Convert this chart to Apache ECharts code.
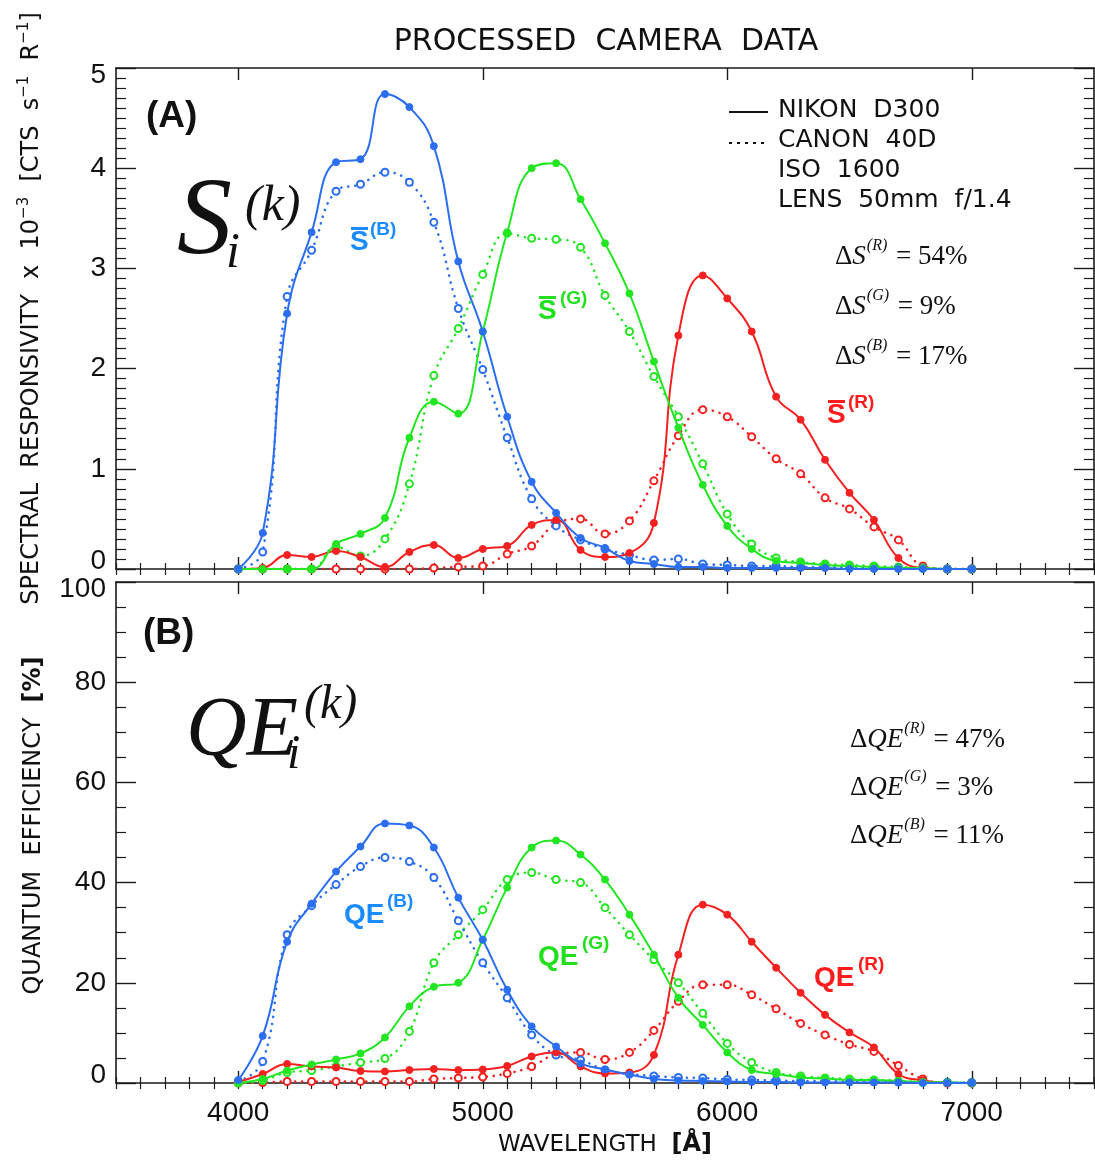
<!DOCTYPE html>
<html><head><meta charset="utf-8">
<script src="https://cdn.jsdelivr.net/npm/echarts@6/dist/echarts.min.js"></script>
<style>html,body{margin:0;padding:0;background:#fff}#c{width:1095px;height:1162px}</style>
</head><body><div id="c"></div>
<script>
// ---------------- DATA ----------------
const wavelengths = [4000,4100,4200,4300,4400,4500,4600,4700,4800,4900,5000,5100,5200,5300,5400,5500,5600,5700,5800,5900,6000,6100,6200,6300,6400,6500,6600,6700,6800,6900,7000];
const xTickValues = [4000,5000,6000,7000];

// Panel A: spectral responsivity (x 10^-3)
const sBlueNikon = [0,0.36,2.55,3.36,4.06,4.09,4.74,4.61,4.22,3.07,2.37, 1.52,0.87,0.56,0.31,0.21,0.08,0.05,0.02,0.02,0.01, 0.01,0.01,0.01,0.01,0,0,0,0,0,0];
const sBlueCanon = [0,0.17,2.72,3.18,3.77,3.84,3.96,3.86,3.46,2.60,1.99, 1.31,0.70,0.43,0.29,0.20,0.14,0.09,0.10,0.05,0.04, 0.03,0.03,0.02,0.02,0.02,0.01,0.01,0.01,0,0];
const sGreenNikon = [0,0,0,0,0.25,0.35,0.51,1.31,1.67,1.55,2.37, 3.36,4.00,4.05,3.69,3.25,2.75,2.07,1.41,0.84,0.43, 0.20,0.08,0.06,0.04,0.03,0.02,0.01,0.01,0,0];
const sGreenCanon = [0,0,0,0,0.22,0.13,0.30,0.85,1.93,2.40,2.94, 3.35,3.30,3.29,3.21,2.73,2.37,1.92,1.52,1.05,0.55, 0.25,0.11,0.07,0.05,0.04,0.03,0.02,0.01,0,0];
const sRedNikon = [0,0.01,0.14,0.12,0.18,0.12,0.02,0.17,0.24,0.11,0.20, 0.23,0.44,0.49,0.19,0.12,0.16,0.46,2.33,2.93,2.70, 2.37,1.72,1.49,1.09,0.76,0.49,0.11,0.01,0,0];
const sRedCanon = [0,0,0,0,0,0,0,0,0.01,0.02,0.03, 0.15,0.23,0.45,0.50,0.35,0.48,0.88,1.33,1.59,1.52, 1.32,1.10,0.95,0.71,0.60,0.42,0.29,0.03,0,0];

// Panel B: quantum efficiency (%)
const qBlueNikon = [0.6,9.4,28.2,35.8,42.2,47.2,51.8,51.4,47.0,37.0,28.6, 18.6,11.3,7.3,3.9,2.7,1.7,0.8,0.5,0.4,0.3, 0.2,0.2,0.1,0.1,0.1,0.1,0.1,0,0,0];
const qBlueCanon = [0.3,4.3,29.6,35.4,39.6,43.2,45.0,44.2,41.0,32.4,24.0, 17.0,9.6,5.6,4.6,2.6,1.8,1.4,1.1,1.0,0.7, 0.6,0.5,0.4,0.4,0.3,0.3,0.2,0.2,0.1,0.1];
const qGreenNikon = [0,0.8,2.5,3.7,4.7,5.9,9.1,15.3,19.2,20.0,28.6, 39.0,47.0,48.4,45.6,40.6,33.6,25.6,17.0,11.6,6.1, 2.6,1.8,1.1,0.9,0.6,0.6,0.4,0.2,0.1,0];
const qGreenCanon = [0,0.5,2.1,2.5,3.3,4.1,4.9,10.3,24.0,29.6,34.6, 40.6,42.0,40.6,40.0,35.0,29.6,24.6,20.0,13.9,7.9, 4.1,2.1,1.4,1.0,0.8,0.6,0.4,0.2,0.1,0];
const qRedNikon = [0.2,1.8,3.8,3.3,3.1,2.4,2.3,2.6,2.8,2.6,2.7, 3.4,5.3,6.1,3.3,1.9,2.1,5.6,25.6,35.6,33.6, 28.2,23.0,18.0,13.6,10.1,7.1,1.8,0.5,0,0];
const qRedCanon = [0,0.1,0.3,0.3,0.3,0.3,0.3,0.3,0.8,1.0,1.2, 1.9,3.3,5.7,6.1,4.7,6.1,10.5,16.3,19.6,19.6, 17.6,14.8,11.9,9.6,7.7,6.3,3.5,0.8,0,0];

// ---------------- STYLE ----------------
const BLUE = '#2b6ef2', GREEN = '#22e622', RED = '#f52020';
const BLUE_L = '#1a8cff', GREEN_L = '#22e01e', RED_L = '#ff1c1c';
const SANS = 'Liberation Sans', DV = 'DejaVu Sans', SERIF = 'Liberation Serif';
const AX = '#1a1a1a';

function line(data, color, solid, xi, yi, z) {
  return {
    type: 'line', xAxisIndex: xi, yAxisIndex: yi, z: z,
    data: wavelengths.map((w, i) => [w, data[i]]),
    smooth: 0.45,
    symbol: solid ? 'circle' : 'emptyCircle',
    symbolSize: 7,
    lineStyle: solid ? {color: color, width: 2} : {color: color, width: 2.6, type: [0.1, 7], cap: 'round'},
    itemStyle: {color: color, borderColor: color, borderWidth: solid ? 1 : 2},
    emphasis: {disabled: true}
  };
}

function xAxes(gridIndex, withLabels) {
  const base = {type: 'value', gridIndex: gridIndex, min: 3500, max: 7500, splitLine: {show: false}};
  return [
    Object.assign({}, base, {position: 'bottom',
      axisLine: {show: true, onZero: false, lineStyle: {color: AX, width: 1.6}},
      axisTick: {show: true, inside: true, length: 12, customValues: xTickValues, lineStyle: {color: AX, width: 1.4}},
      axisLabel: {show: withLabels, customValues: xTickValues, formatter: v => String(v),
        fontSize: 28, fontFamily: SANS, color: '#111', margin: 16},
      name: withLabels ? '{n|WAVELENGTH  }{b|[Å]}' : '', nameLocation: 'middle', nameGap: 50,
      nameTextStyle: {rich: {n: {fontSize: 23, fontFamily: DV, color: '#111'}, b: {fontSize: 24, fontFamily: DV, fontWeight: 'bold', color: '#111'}}}
    }),
    Object.assign({}, base, {position: 'bottom', interval: 100,
      axisLine: {show: false}, axisLabel: {show: false},
      axisTick: {show: true, inside: true, length: 6, lineStyle: {color: AX, width: 1.2}}}),
    Object.assign({}, base, {position: 'top',
      axisLine: {show: true, onZero: false, lineStyle: {color: AX, width: 1.6}},
      axisTick: {show: true, inside: true, length: 12, customValues: xTickValues, lineStyle: {color: AX, width: 1.4}},
      axisLabel: {show: false}}),
    Object.assign({}, base, {position: 'top', interval: 100,
      axisLine: {show: false}, axisLabel: {show: false},
      axisTick: {show: true, inside: true, length: 6, lineStyle: {color: AX, width: 1.2}}})
  ];
}

function yAxes(gridIndex, max, interval, minorSplit, name, namePad) {
  const lab = {fontSize: 28, fontFamily: SANS, color: '#111'};
  const base = {type: 'value', gridIndex: gridIndex, min: 0, max: max, interval: interval,
    splitLine: {show: false},
    axisLine: {show: true, onZero: false, lineStyle: {color: AX, width: 1.6}},
    axisTick: {show: true, inside: true, length: 20, lineStyle: {color: AX, width: 1.4}},
    minorTick: {show: true, splitNumber: minorSplit, length: 10, lineStyle: {color: AX, width: 1.2}},
    minorSplitLine: {show: false}};
  return [
    Object.assign({}, base, {position: 'left',
      axisLabel: {show: true, margin: 10, fontSize: 28, fontFamily: SANS, color: '#111',
        formatter: v => v === 0 ? '{lo|' + v + '}' : (v === max ? '{hi|' + v + '}' : String(v)),
        rich: {lo: Object.assign({padding: [0, 0, 16, 0]}, lab), hi: Object.assign({padding: [14, 0, 0, 0]}, lab)}},
      name: name, nameLocation: 'middle', nameGap: 70,
      nameTextStyle: {padding: namePad, rich: {
        n: {fontSize: 24, fontFamily: DV, color: '#111'},
        b: {fontSize: 24, fontFamily: DV, fontWeight: 'bold', color: '#111'},
        s: {fontSize: 15, fontFamily: DV, color: '#111', padding: [0, 0, 14, 0]}}}
    }),
    Object.assign({}, base, {position: 'right', axisLabel: {show: false}})
  ];
}

// ---------------- ANNOTATIONS ----------------
function txt(x, y, text, style) {
  return {type: 'text', x: x, y: y, z: 20,
    style: Object.assign({text: text, fill: '#111', align: 'left', verticalAlign: 'middle'}, style)};
}
function seriesLabel(x, y, main, sup, color, bar) {
  const els = [
    txt(x, y, main, {fontSize: 28, fontFamily: SANS, fontWeight: 'bold', fill: color}),
    txt(sup[0], sup[1], sup[2], {fontSize: 19, fontFamily: SANS, fontWeight: 'bold', fill: color})
  ];
  if (bar) els.push({type: 'rect', z: 20, shape: {x: x + 1, y: y - 15, width: 17, height: 3}, style: {fill: color}});
  return els;
}
function delta(x, y, sym, sup, rest) {
  const f = {fontFamily: SERIF, fill: '#111'};
  return txt(x, y, '{d|Δ}{i|' + sym + '}{p|' + sup + '}{t| ' + rest + '}', {rich: {
    d: Object.assign({fontSize: 27}, f),
    i: Object.assign({fontSize: 27, fontStyle: 'italic'}, f),
    p: Object.assign({fontSize: 16, fontStyle: 'italic', padding: [0, 2, 22, 1]}, f),
    t: Object.assign({fontSize: 27}, f)}});
}

const graphics = [].concat(
  [txt(606, 42, 'PROCESSED  CAMERA  DATA', {fontSize: 30, fontFamily: DV, align: 'center'}),
   txt(146, 117, '(A)', {fontSize: 37, fontFamily: SANS, fontWeight: 'bold'}),
   txt(143, 634, '(B)', {fontSize: 37, fontFamily: SANS, fontWeight: 'bold'}),
   // S_i^(k)
   txt(177, 224, 'S', {fontSize: 110, fontFamily: SERIF, fontStyle: 'italic'}),
   txt(245, 207, '(k)', {fontSize: 50, fontFamily: SERIF, fontStyle: 'italic'}),
   txt(226, 254, 'i', {fontSize: 50, fontFamily: SERIF, fontStyle: 'italic'}),
   // QE_i^(k)
   txt(186, 733, 'QE', {fontSize: 84, fontFamily: SERIF, fontStyle: 'italic'}),
   txt(304, 705, '(k)', {fontSize: 48, fontFamily: SERIF, fontStyle: 'italic'}),
   txt(287, 755, 'i', {fontSize: 48, fontFamily: SERIF, fontStyle: 'italic'}),
   // legend
   {type: 'line', z: 20, shape: {x1: 729, y1: 112, x2: 768, y2: 112}, style: {stroke: '#111', lineWidth: 2}},
   {type: 'line', z: 20, shape: {x1: 729, y1: 143, x2: 768, y2: 143}, style: {stroke: '#111', lineWidth: 2, lineDash: [3, 5]}},
   txt(778, 110, 'NIKON  D300', {fontSize: 25, fontFamily: DV}),
   txt(778, 140, 'CANON  40D', {fontSize: 25, fontFamily: DV}),
   txt(778, 170, 'ISO  1600', {fontSize: 25, fontFamily: DV}),
   txt(778, 200, 'LENS  50mm  f/1.4', {fontSize: 25, fontFamily: DV}),
   delta(835, 257, 'S', '(R)', '= 54%'),
   delta(835, 307, 'S', '(G)', '= 9%'),
   delta(835, 357, 'S', '(B)', '= 17%'),
   delta(850, 740, 'QE', '(R)', '= 47%'),
   delta(850, 788, 'QE', '(G)', '= 3%'),
   delta(850, 836, 'QE', '(B)', '= 11%')
  ],
  seriesLabel(350, 242, 'S', [370, 230, '(B)'], BLUE_L, true),
  seriesLabel(538, 311, 'S', [560, 299, '(G)'], GREEN_L, true),
  seriesLabel(827, 415, 'S', [848, 403, '(R)'], RED_L, true),
  seriesLabel(344, 915, 'QE', [387, 902, '(B)'], BLUE_L, false),
  seriesLabel(538, 957, 'QE', [582, 944, '(G)'], GREEN_L, false),
  seriesLabel(814, 978, 'QE', [858, 965, '(R)'], RED_L, false)
);

const option = {
  animation: false,
  backgroundColor: '#fff',
  grid: [
    {left: 116, top: 68, width: 978, height: 501, containLabel: false},
    {left: 116, top: 582, width: 978, height: 501, containLabel: false}
  ],
  xAxis: [].concat(xAxes(0, false), xAxes(1, true)),
  yAxis: [].concat(
    yAxes(0, 5, 1, 10, '{n|SPECTRAL  RESPONSIVITY  x  10}{s|−3}{n|  [CTS  s}{s|−1}{n|  R}{s|−1}{n|]}', [0, 0, 0, 20]),
    yAxes(1, 100, 20, 4, '{n|QUANTUM  EFFICIENCY  }{b|[%]}', [0, 0, 0, 14])
  ),
  series: [
    line(sRedCanon, RED, false, 0, 0, 2), line(sRedNikon, RED, true, 0, 0, 3),
    line(sGreenCanon, GREEN, false, 0, 0, 2), line(sGreenNikon, GREEN, true, 0, 0, 3),
    line(sBlueCanon, BLUE, false, 0, 0, 2), line(sBlueNikon, BLUE, true, 0, 0, 3),
    line(qRedCanon, RED, false, 4, 2, 2), line(qRedNikon, RED, true, 4, 2, 3),
    line(qGreenCanon, GREEN, false, 4, 2, 2), line(qGreenNikon, GREEN, true, 4, 2, 3),
    line(qBlueCanon, BLUE, false, 4, 2, 2), line(qBlueNikon, BLUE, true, 4, 2, 3)
  ],
  graphic: graphics
};

const chart = echarts.init(document.getElementById('c'), null, {renderer: 'canvas'});
chart.setOption(option);
</script></body></html>
